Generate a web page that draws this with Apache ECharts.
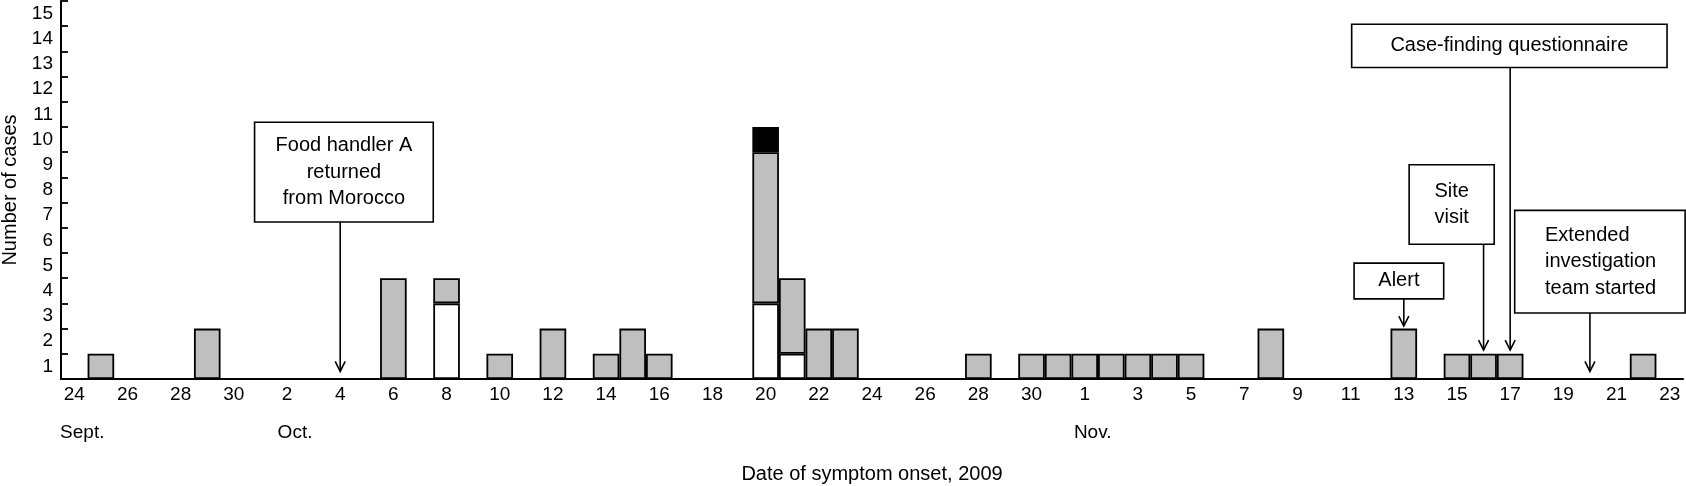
<!DOCTYPE html>
<html>
<head>
<meta charset="utf-8">
<script src="https://cdn.jsdelivr.net/npm/echarts@6/dist/echarts.min.js"></script>
<style>html,body{margin:0;padding:0;background:#fff;}#c{width:1686px;height:486px;}</style>
</head>
<body>
<div id="c"></div>
<script>
// Days from 24 Sept to 23 Nov 2009
const dayLabels = [
  '24','25','26','27','28','29','30',
  '1','2','3','4','5','6','7','8','9','10','11','12','13','14','15','16','17','18','19','20','21','22','23','24','25','26','27','28','29','30','31',
  '1','2','3','4','5','6','7','8','9','10','11','12','13','14','15','16','17','18','19','20','21','22','23'
];
const monthLabels = ['Sept.', 'Oct.', 'Nov.'];
const monthLabelIndex = [0, 8, 38];
const yTickLabels = ['1','2','3','4','5','6','7','8','9','10','11','12','13','14','15'];

// Cases per day (stacked: white bottom, grey middle, black top)
const whiteCases = [
  0,0,0,0,0,0,0,0,0,0,
  0,0,0,0,3,0,0,0,0,0,
  0,0,0,0,0,0,3,1,0,0,
  0,0,0,0,0,0,0,0,0,0,
  0,0,0,0,0,0,0,0,0,0,
  0,0,0,0,0,0,0,0,0,0,
  0
];
const greyCases = [
  0,1,0,0,0,2,0,0,0,0,
  0,0,4,0,1,0,1,0,2,0,
  1,2,1,0,0,0,6,3,2,2,
  0,0,0,0,1,0,1,1,1,1,
  1,1,1,0,0,2,0,0,0,0,
  2,0,1,1,1,0,0,0,0,1,
  0
];
const blackCases = [
  0,0,0,0,0,0,0,0,0,0,
  0,0,0,0,0,0,0,0,0,0,
  0,0,0,0,0,0,1,0,0,0,
  0,0,0,0,0,0,0,0,0,0,
  0,0,0,0,0,0,0,0,0,0,
  0,0,0,0,0,0,0,0,0,0,
  0
];

// Annotations: date index the arrow points at, and arrow tip value
const annotationTexts = [
  'Food handler A\nreturned\nfrom Morocco',
  'Alert',
  'Site\nvisit',
  'Case-finding questionnaire',
  'Extended\ninvestigation\nteam started'
];
const annotationDates = [10, 50, 53, 54, 57];
const annotationTips = [0.3, 2.1, 1.15, 1.15, 0.3];

// Box layout (relative day offsets, value-axis units)
const annotationLayout = [
  {l: -3.22, r: 3.5,  top: 10.19, bottom: 6.23, align: 'center'},
  {l: -1.87, r: 1.5,  top: 4.6,   bottom: 3.18, align: 'center'},
  {l: -2.8,  r: 0.4,  top: 8.5,   bottom: 5.35, align: 'center'},
  {l: -5.96, r: 5.9,  top: 14.08, bottom: 12.36, align: 'center'},
  {l: -2.83, r: 3.58, top: 6.69,  bottom: 2.62, align: 'left', tx: -1.69}
];

const FONT = "'Liberation Sans', Arial, Helvetica, sans-serif";
const z = v => (v === 0 ? '-' : v);
const barBorder = {borderColor: '#000', borderWidth: 1.8};

const chart = echarts.init(document.getElementById('c'), null, {renderer: 'canvas'});
chart.setOption({
  animation: false,
  backgroundColor: '#fff',
  textStyle: {fontFamily: FONT, color: '#000'},
  grid: {left: 61, right: 3, top: 1, bottom: 107, containLabel: false, outerBoundsMode: 'none'},
  xAxis: {
    type: 'category',
    data: dayLabels,
    boundaryGap: true,
    axisLine: {show: true, lineStyle: {color: '#000', width: 2}},
    axisTick: {show: false},
    axisLabel: {
      interval: 1,
      color: '#000',
      fontSize: 19,
      fontFamily: FONT,
      lineHeight: 20,
      margin: 6,
      formatter: function (value, index) {
        const k = monthLabelIndex.indexOf(index);
        if (k >= 0) return value + '\n{m|' + monthLabels[k] + '}';
        return value;
      },
      rich: {
        m: {fontSize: 19, fontFamily: FONT, color: '#000', lineHeight: 55, padding: [0, 0, 0, 16]}
      }
    },
    splitLine: {show: false},
    name: 'Date of symptom onset, 2009',
    nameLocation: 'middle',
    nameGap: 85,
    nameTextStyle: {fontSize: 20, fontFamily: FONT, color: '#000'}
  },
  yAxis: [
    {type: 'value', min: 0, max: 15, show: false},
    {
      type: 'category',
      data: yTickLabels,
      position: 'left',
      boundaryGap: true,
      axisLine: {show: true, lineStyle: {color: '#000', width: 2}},
      axisTick: {show: true, inside: true, length: 7, interval: 0, alignWithLabel: false, lineStyle: {color: '#000', width: 1.8}},
      axisLabel: {interval: 0, color: '#000', fontSize: 19, fontFamily: FONT, margin: 8},
      splitLine: {show: false},
      name: 'Number of cases',
      nameLocation: 'middle',
      nameGap: 39,
      nameTextStyle: {fontSize: 20, fontFamily: FONT, color: '#000'}
    }
  ],
  series: [
    {type: 'bar', stack: 'cases', yAxisIndex: 0, data: whiteCases.map(z), barWidth: '100%', barCategoryGap: '0%',
     itemStyle: Object.assign({color: '#ffffff'}, barBorder)},
    {type: 'bar', stack: 'cases', yAxisIndex: 0, data: greyCases.map(z), barWidth: '100%', barCategoryGap: '0%',
     itemStyle: Object.assign({color: '#bfbfbf'}, barBorder)},
    {type: 'bar', stack: 'cases', yAxisIndex: 0, data: blackCases.map(z), barWidth: '100%', barCategoryGap: '0%',
     itemStyle: Object.assign({color: '#000000'}, barBorder)},
    {
      type: 'custom',
      yAxisIndex: 0,
      clip: false,
      z: 10,
      encode: {x: 0, y: 1},
      data: annotationDates.map((d, i) => [d, annotationTips[i]]),
      renderItem: function (params, api) {
        const i = params.dataIndex;
        const L = annotationLayout[i];
        const tip = api.coord([api.value(0), api.value(1)]);
        const size = api.size([1, 1]);
        const bw = size[0];
        const ax = tip[0];
        const yTop = api.coord([api.value(0), L.top])[1];
        const yBot = api.coord([api.value(0), L.bottom])[1];
        const x0 = ax + L.l * bw;
        const x1 = ax + L.r * bw;
        const tx = L.align === 'left' ? ax + L.tx * bw : (x0 + x1) / 2;
        return {
          type: 'group',
          children: [
            {type: 'line', shape: {x1: ax, y1: yBot, x2: ax, y2: tip[1]}, style: {stroke: '#000', lineWidth: 1.6}},
            {type: 'polyline', shape: {points: [[ax - 5, tip[1] - 10], [ax, tip[1]], [ax + 5, tip[1] - 10]]},
             style: {stroke: '#000', lineWidth: 1.6, fill: null}},
            {type: 'rect', shape: {x: x0, y: yTop, width: x1 - x0, height: yBot - yTop},
             style: {fill: '#fff', stroke: '#000', lineWidth: 1.6}},
            {type: 'text', style: {text: annotationTexts[i], x: tx, y: (yTop + yBot) / 2,
              align: L.align, verticalAlign: 'middle', fontSize: 20, fontFamily: FONT, lineHeight: 26.7, fill: '#000'}}
          ]
        };
      }
    }
  ]
});
</script>
</body>
</html>
